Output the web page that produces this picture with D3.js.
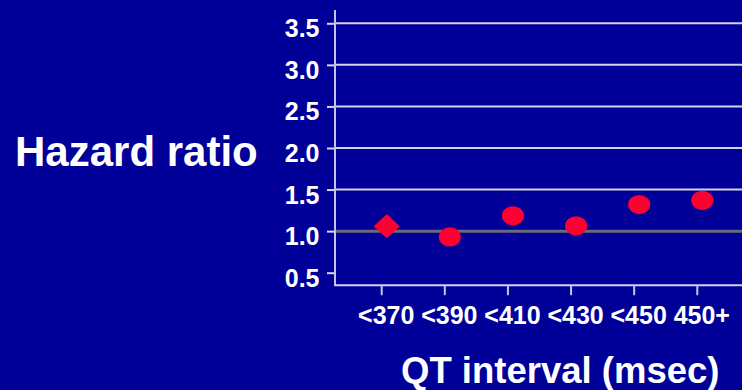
<!DOCTYPE html>
<html>
<head>
<meta charset="utf-8">
<script src="https://cdn.jsdelivr.net/npm/d3@7"></script>
<style>
  html, body { margin: 0; padding: 0; background: #000099; }
  svg { display: block; }
  text { font-family: "Liberation Sans", Arial, sans-serif; font-weight: bold; fill: #ffffff; }
</style>
</head>
<body>
<svg id="chart" width="742" height="390"></svg>
<script>
// QT interval categories and hazard ratios
const categories = ["<370", "<390", "<410", "<430", "<450", "450+"];
const hazardRatios = [1.06, 0.93, 1.185, 1.065, 1.32, 1.37];
const markerShapes = ["diamond", "circle", "circle", "circle", "circle", "circle"];
const yTickValues = [0.5, 1.0, 1.5, 2.0, 2.5, 3.0, 3.5];
const yTickLabels = ["0.5", "1.0", "1.5", "2.0", "2.5", "3.0", "3.5"];
const referenceValue = 1.0;

const W = 742, H = 390;
const axisX = 335;          // y-axis position
const axisBottom = 285.2;   // x-axis position
const axisTop = 10;

const svg = d3.select("#chart");

svg.append("rect").attr("width", W).attr("height", H).attr("fill", "#000099");

const y = d3.scaleLinear().domain([0.5, 3.5]).range([272.7, 23.3]);
const x = d3.scalePoint().domain(categories).range([386.7, 702.3]);
const tickShift = -5;

// horizontal gridlines
const grid = svg.append("g");
grid.selectAll("line.grid")
  .data(yTickValues.filter(v => v !== referenceValue && v !== 0.5))
  .join("line")
  .attr("class", "grid")
  .attr("x1", axisX).attr("x2", W)
  .attr("y1", d => y(d)).attr("y2", d => y(d))
  .attr("stroke", "#d2d2ea").attr("stroke-width", 2);

// reference line at HR = 1
svg.append("line")
  .attr("x1", axisX).attr("x2", W)
  .attr("y1", y(referenceValue)).attr("y2", y(referenceValue))
  .attr("stroke", "#6a6a7a").attr("stroke-width", 3);

// y axis
const yAxis = d3.axisLeft(y)
  .tickValues(yTickValues)
  .tickFormat((d, i) => yTickLabels[i])
  .tickSize(8)
  .tickPadding(8);
const gy = svg.append("g").attr("transform", `translate(${axisX},0)`).call(yAxis);
gy.select(".domain").remove();
gy.selectAll(".tick line").attr("stroke", "#d8d8f0").attr("stroke-width", 2);
gy.selectAll(".tick text")
  .attr("fill", "#ffffff")
  .attr("font-size", 25)
  .attr("font-family", "Liberation Sans, Arial, sans-serif")
  .attr("font-weight", "bold")
  .attr("x", -15.5)
  .attr("dy", "0.72em")
  .attr("y", -4.5);

svg.append("line")
  .attr("x1", axisX).attr("x2", axisX)
  .attr("y1", axisTop).attr("y2", axisBottom)
  .attr("stroke", "#c4c4e6").attr("stroke-width", 2);

// x axis
svg.append("line")
  .attr("x1", axisX - 1).attr("x2", W)
  .attr("y1", axisBottom).attr("y2", axisBottom)
  .attr("stroke", "#d0d0ee").attr("stroke-width", 2);

const gx = svg.append("g");
gx.selectAll("line.xt")
  .data(categories)
  .join("line")
  .attr("class", "xt")
  .attr("x1", d => x(d) + tickShift).attr("x2", d => x(d) + tickShift)
  .attr("y1", axisBottom).attr("y2", axisBottom + 10)
  .attr("stroke", "#c4c4e6").attr("stroke-width", 2);
gx.selectAll("text.xl")
  .data(categories)
  .join("text")
  .attr("class", "xl")
  .attr("x", d => x(d) - 0.5)
  .attr("y", 324.3)
  .attr("text-anchor", "middle")
  .attr("font-size", 25)
  .text(d => d);

// markers
const pts = categories.map((c, i) => ({ c, v: hazardRatios[i], shape: markerShapes[i] }));
const marks = svg.append("g");
marks.selectAll("ellipse")
  .data(pts.filter(p => p.shape === "circle"))
  .join("ellipse")
  .attr("cx", d => x(d.c))
  .attr("cy", d => y(d.v))
  .attr("rx", 11)
  .attr("ry", 9.6)
  .attr("fill", "#ff0033");
marks.selectAll("path")
  .data(pts.filter(p => p.shape === "diamond"))
  .join("path")
  .attr("d", d => {
    const cx = x(d.c), cy = y(d.v), hw = 13, hh = 12;
    return `M${cx},${cy - hh}L${cx + hw},${cy}L${cx},${cy + hh}L${cx - hw},${cy}Z`;
  })
  .attr("fill", "#ff0033");

// axis titles
svg.append("text")
  .attr("x", 15).attr("y", 165.7)
  .attr("font-size", 42)
  .text("Hazard ratio");

svg.append("text")
  .attr("x", 401).attr("y", 383.3)
  .attr("font-size", 36.5)
  .text("QT interval (msec)");
</script>
</body>
</html>
